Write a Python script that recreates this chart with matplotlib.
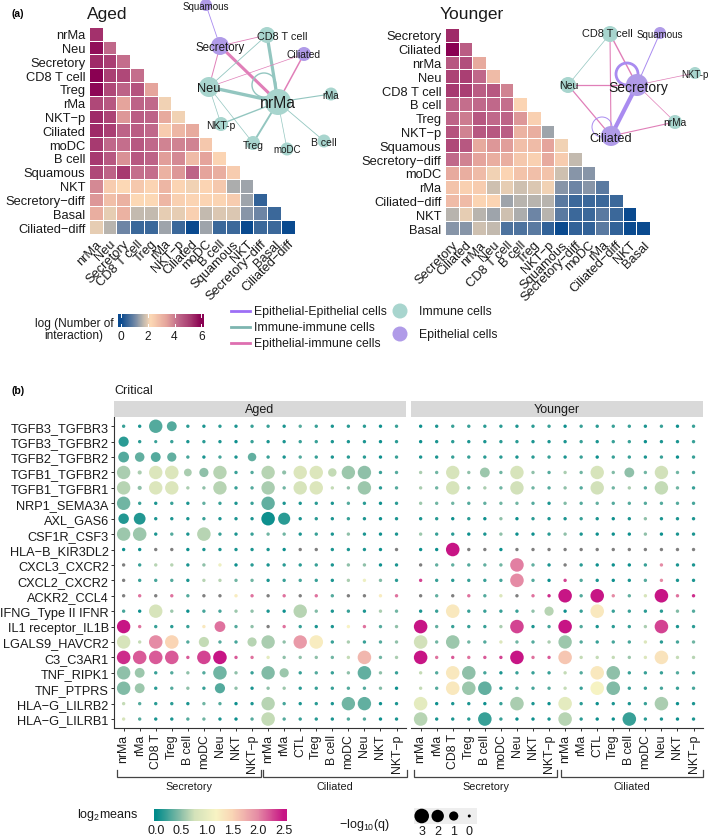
import numpy as np
import matplotlib
matplotlib.use('Agg')
from matplotlib import pyplot as plt
from matplotlib.colors import LinearSegmentedColormap
from matplotlib.patches import Circle, Rectangle

plt.rcParams['font.family'] = ['Liberation Sans', 'DejaVu Sans']
plt.rcParams['mathtext.default'] = 'regular'

G = np.nan  # grey dots, no mean

aged_cells = ['nrMa', 'Neu', 'Secretory', 'CD8 T cell', 'Treg', 'rMa', 'NKT−p', 'Ciliated', 'moDC',
              'B cell', 'Squamous', 'NKT', 'Secretory−diff', 'Basal', 'Ciliated−diff']
aged_counts = [
    [5.3],
    [5.8, 4.3],
    [5.4, 5.1, 4.2],
    [6.0, 5.1, 4.9, 4.2],
    [5.9, 4.9, 4.4, 4.7, 3.4],
    [4.9, 4.6, 3.4, 4.4, 4.3, 2.1],
    [5.4, 5.0, 3.6, 4.5, 4.4, 3.3, 2.1],
    [5.4, 5.1, 4.4, 4.5, 4.3, 2.5, 3.0, 3.3],
    [5.2, 4.3, 4.2, 4.6, 4.3, 3.9, 3.9, 3.9, 2.6],
    [5.2, 4.6, 3.7, 4.6, 4.4, 3.5, 3.8, 2.9, 3.4, 2.3],
    [4.9, 4.4, 5.2, 4.2, 4.2, 3.1, 3.6, 4.4, 3.4, 3.2, 2.5],
    [3.8, 2.5, 2.2, 2.6, 2.3, 3.0, 2.3, 2.1, 2.3, 2.6, 1.5, 1.4],
    [3.6, 2.8, 3.1, 2.2, 2.2, 3.0, 2.4, 2.3, 2.3, 2.3, 2.5, 1.4, 0.4],
    [3.2, 2.0, 3.1, 1.7, 1.7, 2.0, 2.0, 2.4, 1.7, 1.9, 1.9, 1.2, 1.0, 0.5],
    [2.0, 1.6, 1.0, 0.5, 0.5, 1.4, 0.5, 0.0, 1.4, 0.5, 0.5, 0.0, 0.5, 0.5, 0.0],
]
younger_cells = ['Secretory', 'Ciliated', 'nrMa', 'Neu', 'CD8 T cell', 'B cell', 'Treg', 'NKT−p', 'Squamous',
                 'Secretory−diff', 'moDC', 'rMa', 'Ciliated−diff', 'NKT', 'Basal']
younger_counts = [
    [5.4],
    [6.0, 4.5],
    [4.6, 4.8, 3.3],
    [5.0, 5.1, 4.3, 2.9],
    [5.2, 5.1, 4.5, 4.6, 3.9],
    [4.4, 4.2, 4.3, 4.3, 4.2, 2.3],
    [4.4, 4.0, 4.6, 4.3, 4.4, 3.6, 2.4],
    [4.7, 3.9, 4.6, 4.6, 4.5, 3.1, 3.2, 1.4],
    [4.9, 4.6, 3.3, 3.6, 3.5, 2.8, 2.9, 3.4, 2.1],
    [4.3, 3.9, 3.4, 3.2, 3.2, 2.6, 2.4, 3.3, 2.5, 1.7],
    [3.3, 3.2, 2.9, 2.1, 2.3, 2.7, 2.8, 2.7, 1.8, 1.2, 1.2],
    [2.7, 2.4, 2.5, 1.8, 2.0, 1.8, 1.9, 2.1, 1.2, 1.0, 1.2, 0.8],
    [2.9, 2.9, 2.3, 2.3, 1.4, 1.6, 1.6, 1.6, 0.8, 0.5, 0.5, 0.5, 0.5],
    [1.6, 2.0, 1.6, 1.4, 1.8, 1.5, 1.0, 1.6, 0.8, 0.5, 0.5, 0.8, 0.5, 0.0],
    [1.2, 1.2, 1.8, 1.7, 0.7, 0.7, 0.8, 0.4, 0.0, 0.4, 0.4, 0.8, 0.4, 0.0, 0.0],
]

# network: name, x, y, radius, kind, label font size
aged_nodes = [
    ('Squamous', 206, 6, 6, 'epi', 7.0), ('Secretory', 220, 47, 9, 'epi', 8.3),
    ('CD8 T cell', 267, 36, 8, 'imm', 7.8), ('Ciliated', 304, 55, 7, 'epi', 7.4),
    ('Neu', 209, 88, 10, 'imm', 9.2), ('nrMa', 278, 103, 13, 'imm', 11.3),
    ('rMa', 331, 95, 6.5, 'imm', 7.0), ('NKT-p', 221, 125, 7, 'imm', 7.5),
    ('Treg', 253, 144, 7, 'imm', 7.5), ('moDC', 287, 150, 6.5, 'imm', 7.0),
    ('B cell', 324, 142, 6.5, 'imm', 7.5),
]
aged_label_pos = {'Squamous': (206, 7), 'Secretory': (220, 48), 'CD8 T cell': (282, 37), 'Ciliated': (304, 55),
                  'Neu': (209, 89), 'nrMa': (278, 103), 'rMa': (331, 96), 'NKT-p': (221, 126), 'Treg': (253, 146),
                  'moDC': (287, 150), 'B cell': (324, 143)}
aged_edges = [
    ('Squamous', 'Secretory', 'epi', 0.6), ('Secretory', 'CD8 T cell', 'mix', 0.6),
    ('Secretory', 'Neu', 'mix', 0.7), ('Secretory', 'nrMa', 'mix', 2.2), ('CD8 T cell', 'Neu', 'imm', 0.6),
    ('CD8 T cell', 'nrMa', 'imm', 2.3), ('Ciliated', 'Neu', 'mix', 0.5), ('Ciliated', 'nrMa', 'mix', 1.1),
    ('Neu', 'nrMa', 'imm', 2.4), ('nrMa', 'rMa', 'imm', 0.8), ('nrMa', 'NKT-p', 'imm', 1.0),
    ('nrMa', 'Treg', 'imm', 1.4), ('nrMa', 'moDC', 'imm', 0.5), ('nrMa', 'B cell', 'imm', 0.6),
    ('Neu', 'NKT-p', 'imm', 0.5), ('Neu', 'Treg', 'imm', 0.5),
]
younger_nodes = [
    ('CD8 T cell', 610, 35, 8, 'imm', 7.9), ('Squamous', 660, 34, 6, 'epi', 7.0),
    ('NKT-p', 695, 74, 6, 'imm', 7.0), ('Secretory', 637, 86, 11, 'epi', 10.0),
    ('Neu', 568, 86, 8, 'imm', 7.6), ('nrMa', 675, 123, 7, 'imm', 7.3), ('Ciliated', 611, 137, 10, 'epi', 9.2),
]
younger_label_pos = {'CD8 T cell': (607, 34), 'Squamous': (660, 35), 'NKT-p': (695, 75), 'Secretory': (638, 88),
                     'Neu': (569, 86), 'nrMa': (675, 123), 'Ciliated': (611, 139)}
younger_edges = [
    ('CD8 T cell', 'Neu', 'imm', 0.5), ('CD8 T cell', 'Secretory', 'mix', 1.0), ('CD8 T cell', 'Ciliated', 'mix', 0.8),
    ('Squamous', 'Secretory', 'epi', 0.7), ('NKT-p', 'Secretory', 'mix', 0.5), ('Neu', 'Secretory', 'mix', 0.9),
    ('Neu', 'Ciliated', 'mix', 0.9), ('nrMa', 'Secretory', 'mix', 0.5), ('nrMa', 'Ciliated', 'mix', 0.8),
    ('Secretory', 'Ciliated', 'epi', 3.0),
]

pairs = ['TGFB3_TGFBR3', 'TGFB3_TGFBR2', 'TGFB2_TGFBR2', 'TGFB1_TGFBR2', 'TGFB1_TGFBR1', 'NRP1_SEMA3A',
         'AXL_GAS6', 'CSF1R_CSF3', 'HLA−B_KIR3DL2', 'CXCL3_CXCR2', 'CXCL2_CXCR2', 'ACKR2_CCL4',
         'IFNG_Type II IFNR', 'IL1 receptor_IL1B', 'LGALS9_HAVCR2', 'C3_C3AR1', 'TNF_RIPK1', 'TNF_PTPRS',
         'HLA−G_LILRB2', 'HLA−G_LILRB1']
cols_sec = ['nrMa', 'rMa', 'CD8 T', 'Treg', 'B cell', 'moDC', 'Neu', 'NKT', 'NKT−p']
cols_cil = ['nrMa', 'rMa', 'CTL', 'Treg', 'B cell', 'moDC', 'Neu', 'NKT', 'NKT−p']

mean_aged = [
    [.2, .1, .3, .3, .15, .1, .15, .1, .2, .2, .1, .3, .2, .1, .15, .15, .05, .2],
    [.15, .15, .2, .2, .1, .15, .1, .05, .2, .1, .1, .2, .2, .1, .1, .1, .05, .15],
    [.3, .35, .3, .35, .25, .1, .25, .1, .35, .2, .1, .3, .2, .1, .15, .15, .05, .2],
    [.6, .6, .85, .85, .6, .5, .65, .2, .3, .65, .5, .85, .85, .7, .55, .5, .2, .3],
    [.65, .5, .85, .85, .6, .5, .65, .2, .3, .6, .4, .8, .85, .7, .5, .55, .15, .3],
    [.4, .2, .1, .2, .1, .35, .2, .1, .2, .35, .1, .1, .15, .1, .3, .15, .05, .15],
    [.12, .12, .1, .1, .1, .2, .1, .1, .1, .05, .15, .1, .15, .1, .2, .1, .05, .1],
    [.55, .55, .1, .3, .1, .65, .2, .1, .2, .4, .4, .1, .2, .1, .5, .1, .05, .1],
    [.05, .05, G, G, .05, .1, .1, .1, .1, .1, .05, G, G, .1, .1, .1, .05, G],
    [G, .2, .65, .65, .1, .5, 1.05, .05, .15, .1, .15, .15, .2, .1, .5, .5, .05, .1],
    [G, .2, .25, .3, .1, .65, .65, .4, .4, .1, .2, .25, .2, .1, .6, 1.05, .45, .15],
    [G, 2.1, G, 2.1, .3, G, G, 1.25, 2.1, G, 2.1, G, 2.1, .3, G, G, 1.25, 2.1],
    [.25, .05, .8, .55, .05, .25, .25, .55, .5, .1, .05, .65, .45, .1, .2, .1, .6, .4],
    [2.5, 2.1, .2, .15, .2, 1.3, 2.1, .3, .5, G, 2.1, .2, .1, .1, 1.2, 2.1, .3, .5],
    [.8, .7, 2.0, 1.5, .3, .7, .3, .25, .65, .6, .5, 1.9, 1.25, .2, .6, .2, .3, .5],
    [2.4, 2.2, 2.2, 2.2, 2.2, 2.3, 2.5, 2.2, 2.1, .95, .5, .5, .5, .4, .7, 1.7, .4, .6],
    [.5, .55, .2, .3, .5, .3, .4, .5, .2, .45, .55, .2, .3, .2, .5, .35, .5, .2],
    [.45, .55, .15, .3, .5, .2, .3, .5, .1, .5, .55, .15, .2, .2, .3, .3, .45, .05],
    [.7, .3, .15, .15, .1, .4, .3, .05, .1, .65, .25, .1, .15, .1, .4, .35, .05, .1],
    [.8, .3, .1, .1, .3, .4, .1, .05, .3, .7, .3, .2, .15, .1, .3, .3, .05, .1],
]
q_aged = [
    [.2, .2, 2.2, 1.2, .2, .2, .2, .2, .2, .2, .2, .2, .2, .2, .2, .2, .2, .2],
    [1.3, .2, .1, .2, .2, .2, .2, .2, .2, .2, .2, .2, .2, .2, .2, .2, .2, .2],
    [1.5, 1.1, 1.2, 1.0, .2, .2, .2, .2, .9, .2, .2, .2, .2, .2, .2, .2, .2, .2],
    [2.2, .3, 2.2, 2.3, .8, 1.0, 2.2, .2, .2, 2.2, .3, 2.2, 2.2, .9, 2.2, 2.2, .2, .2],
    [2.2, .3, 2.2, 2.2, .2, .2, 2.2, .2, .2, 2.2, .2, 2.2, 2.2, .2, .2, 2.2, .2, .2],
    [2.2, .2, .2, .2, .2, .2, .2, .2, .2, 2.2, .2, .2, .2, .2, .2, .2, .2, .2],
    [1.4, 1.8, .2, .2, .2, .2, .2, .2, .2, 2.3, 1.9, .2, .2, .2, .2, .2, .2, .2],
    [2.2, 2.3, .2, .2, .2, 2.3, .2, .2, .2, .2, .2, .2, .2, .2, .2, .2, .2, .2],
    [.2, .2, .2, .2, .2, .2, .2, .2, .2, .2, .2, .2, .2, .2, .2, .2, .2, .2],
    [.2, .2, .2, .2, .2, .2, .2, .2, .2, .2, .2, .2, .2, .2, .2, .2, .2, .2],
    [.2, .2, .2, .2, .2, .2, .2, .2, .2, .2, .2, .2, .2, .2, .2, .2, .2, .2],
    [.2, .2, .2, .2, .2, .2, .2, .2, .2, .2, .2, .2, .2, .2, .2, .2, .2, .2],
    [.2, .2, 2.2, .2, .2, .2, .2, .2, .2, .2, .2, 2.2, .2, .2, .2, .2, .2, .2],
    [2.2, .2, .2, .2, .2, .2, 1.5, .2, .2, .2, .2, .2, .2, .2, .2, .2, .2, .2],
    [2.2, .2, 2.3, 2.3, .2, 1.3, .2, .2, 1.0, 2.2, .2, 2.2, 2.3, .2, .2, .2, .2, .2],
    [2.3, 2.3, 2.3, 2.3, .2, 2.3, 2.3, .2, .2, .2, .2, .2, .2, .2, .2, 2.3, .2, .2],
    [2.2, 1.2, .2, .2, .2, .2, 2.3, .2, .2, 2.2, 1.0, .2, .2, .2, .2, 2.3, .2, .2],
    [2.2, 1.2, .2, .2, .2, .2, 1.3, .2, .2, .2, .2, .2, .2, .2, .2, .2, .2, .2],
    [.2, .2, .2, .2, .2, .2, .2, .2, .2, 2.2, .2, .2, .2, .2, 2.2, 2.2, .2, .2],
    [.2, .2, .2, .2, .2, .2, .2, .2, .2, 2.3, .2, .2, .2, .2, .2, .2, .2, .2],
]
mean_younger = [
    [.05, .1, .2, .2, .15, .15, .1, .15, .2, .05, .2, .15, .2, .2, .1, .2, .05, .2],
    [.05, .1, .15, .1, .1, .15, .15, .1, .1, .1, .2, .1, .2, .2, .05, .1, .1, .2],
    [.1, .1, .2, .2, .15, .15, .1, .15, .2, .1, .2, .05, .2, .2, .1, .2, .05, .2],
    [.6, .4, .8, .5, .55, .4, .8, .5, .3, .6, .4, .8, .45, .5, .4, .75, .4, .25],
    [.6, .4, .8, .4, .6, .4, .75, .4, .3, .5, .3, .75, .4, .6, .3, .7, .4, .2],
    [.55, .4, .4, .3, .35, .4, .4, .3, .1, .45, .3, .35, .3, .3, .3, .3, .3, .25],
    [.1, .15, .05, .15, .05, .5, .05, .15, .1, .1, .2, .1, .05, .1, .5, .1, .1, .1],
    [.55, .2, .15, .05, .1, .5, .05, .05, .15, .5, .1, .05, .05, .05, .5, .05, .1, .1],
    [.05, .05, 2.5, G, G, .05, G, G, G, G, G, G, G, G, G, G, G, G],
    [G, .35, .35, .3, .35, .4, 2.05, .35, .1, G, .15, .05, .05, .05, .2, 2.0, .1, .1],
    [2.3, .2, .15, .2, .2, .25, 2.0, .3, .05, 2.3, .3, .1, .05, .1, .3, 2.0, .1, .1],
    [G, .35, G, 2.1, .3, .85, G, 2.1, 2.4, 2.5, .3, 2.5, 2.0, .35, .8, 2.5, 2.1, 2.4],
    [.1, .2, 1.3, .2, .2, .2, .2, .5, .65, .05, .2, 1.3, .2, .2, .15, .15, .45, .3],
    [2.5, .35, .2, .2, .2, .6, 2.3, .1, .25, 2.5, .3, .1, .15, .2, .6, 2.3, .1, .15],
    [.75, .4, .55, .4, .3, .85, .4, .3, .6, .55, .3, .2, .25, .25, .85, .15, .25, .4],
    [2.5, 2.1, 2.2, 2.1, 2.2, 2.3, 2.5, 2.1, 2.2, 1.6, .7, .7, .7, .55, .85, 1.35, .7, .65],
    [.7, .3, 1.3, .5, .25, .1, .2, .2, .2, .7, .3, 1.3, .5, .2, .2, .2, .3, .2],
    [.7, .3, 1.3, .55, .35, .15, .3, .25, .3, .7, .2, 1.15, .45, .2, .2, .25, .2, .25],
    [.95, .05, .1, .1, .05, .2, .6, .1, .05, .95, .15, .05, .1, .1, .2, .6, .05, .1],
    [.65, .1, .1, .15, .2, .2, .05, .05, .1, .65, .15, .05, .05, .2, .15, .1, .05, .1],
]
q_younger = [
    [.2, .2, .2, .2, .2, .2, .2, .2, .2, .2, .2, .2, .2, .2, .2, .2, .2, .2],
    [.2, .2, .2, .2, .2, .2, .2, .2, .2, .2, .2, .2, .2, .2, .2, .2, .2, .2],
    [.2, .2, .2, .2, .2, .2, .2, .2, .2, .2, .2, .2, .2, .2, .2, .2, .2, .2],
    [.2, .2, 2.2, .2, 1.2, .2, 2.2, .2, .2, .2, .2, 2.2, .2, 1.2, .2, 2.2, .2, .2],
    [.2, .2, 2.2, .2, .2, .2, 2.2, .2, .2, .2, .2, 2.2, .2, .2, .2, 2.2, .2, .2],
    [.2, .2, .2, .2, .2, .2, .2, .2, .2, .2, .2, .2, .2, .2, .2, .2, .2, .2],
    [.2, .2, .2, .2, .2, .2, .2, .2, .2, .2, .2, .2, .2, .2, .2, .2, .2, .2],
    [.2, .2, .2, .2, .2, .2, .2, .2, .2, .2, .2, .2, .2, .2, .2, .2, .2, .2],
    [.2, .2, 2.3, .2, .2, .2, .2, .2, .2, .2, .2, .2, .2, .2, .2, .2, .2, .2],
    [.2, .2, .2, .2, .2, .2, 2.3, .2, .2, .2, .2, .2, .2, .2, .2, .2, .2, .2],
    [.2, .2, .2, .2, .2, .2, 2.3, .2, .2, .2, .2, .2, .2, .2, .2, .2, .2, .2],
    [.2, .2, .2, .2, .2, .2, .2, .2, .2, 2.3, .2, 2.3, .2, .2, .2, 2.3, .2, .2],
    [.2, .2, 2.3, .2, .2, .2, .2, .2, 1.0, .2, .2, 2.3, .2, .2, .2, .2, .2, .2],
    [2.3, .2, .2, .2, .2, .2, 2.3, .2, .2, 2.3, .2, .2, .2, .2, .2, 2.3, .2, .2],
    [2.3, .2, 2.3, .2, .2, .2, .2, .2, .2, 2.2, .2, .2, .2, .2, .2, .2, .2, .2],
    [2.3, .2, .2, .2, .2, .2, 2.3, .2, .2, 2.3, .2, .2, .2, .2, .2, 2.3, .2, .2],
    [.2, .2, 2.3, 2.3, .2, .2, .2, .2, .2, .2, .2, 2.3, 2.3, .2, .2, .2, .2, .2],
    [.2, .2, 2.3, 2.3, 2.3, .2, .2, .2, .2, .2, .2, 2.3, 2.3, .2, .2, .2, .2, .2],
    [2.3, .2, .2, .2, .2, .2, 2.3, .2, .2, 2.3, .2, .2, .2, .2, .2, 2.3, .2, .2],
    [2.3, .2, .2, .2, 2.3, .2, .2, .2, .2, 2.3, .2, .2, .2, 2.3, .2, .2, .2, .2],
]

W, H = 709, 837
fig = plt.figure(figsize=(W / 100, H / 100), dpi=100)

heat_cmap = LinearSegmentedColormap.from_list('heat', [
    (0, '#0A4A8F'), (1.0 / 6, '#6E86A5'), (1.6 / 6, '#B8B4AE'), (2.2 / 6, '#FDD9B5'),
    (3.4 / 6, '#E5A59C'), (4.3 / 6, '#C0688A'), (5.2 / 6, '#A73A70'), (1, '#8A0052')])
dot_cmap = LinearSegmentedColormap.from_list('dots', [
    (0, '#008B8B'), (0.2, '#8FC0A9'), (0.3, '#D3E2BA'), (0.47, '#F8F4C4'), (0.6, '#FAD5B5'),
    (0.8, '#E58BA5'), (1, '#C71585')])

EPI, IMM, MIX = '#B09BE8', '#A8D5CE', '#DE6FB0'
edge_colors = {'epi': '#A98BF0', 'imm': '#93C6C0', 'mix': '#E07FB8'}
node_colors = {'epi': EPI, 'imm': IMM}


def px_axes(left, top, right, bottom, **kw):
    return fig.add_axes([left / W, 1 - bottom / H, (right - left) / W, (bottom - top) / H], **kw)


def draw_heat(box, cells, counts):
    n = len(cells)
    z = np.full((n, n), np.nan)
    for i, row in enumerate(counts):
        z[i, :len(row)] = row
    ax = px_axes(*box)
    ax.pcolormesh(np.arange(n + 1), np.arange(n + 1), np.ma.masked_invalid(z), cmap=heat_cmap,
                  vmin=0, vmax=6, edgecolors='white', linewidth=0.55)
    ax.set_xlim(0, n)
    ax.set_ylim(n, 0)
    ax.set_xticks(np.arange(n) + 0.5)
    ax.set_yticks(np.arange(n) + 0.5)
    ax.set_xticklabels(cells, rotation=45, ha='right', va='top', rotation_mode='anchor', fontsize=9.3, color='#1a1a1a')
    ax.set_yticklabels(cells, fontsize=9.3, color='#1a1a1a')
    ax.tick_params(length=0, pad=2.5)
    for s in ax.spines.values():
        s.set_visible(False)


draw_heat((89, 27.7, 294.5, 235), aged_cells, aged_counts)
draw_heat((445, 29, 650, 236), younger_cells, younger_counts)

ov = fig.add_axes([0, 0, 1, 1], zorder=5)
ov.set_xlim(0, W)
ov.set_ylim(H, 0)
ov.axis('off')


def draw_net(nodes, edges, label_pos):
    pos = {n[0]: (n[1], n[2]) for n in nodes}
    for a, b, kind, lw in edges:
        ov.plot([pos[a][0], pos[b][0]], [pos[a][1], pos[b][1]], color=edge_colors[kind], lw=lw,
                solid_capstyle='butt', zorder=1)
    for name, x, y, r, kind, fs in nodes:
        ov.add_patch(Circle((x, y), r, fc=node_colors[kind], ec='none', zorder=2))
        lx, ly = label_pos[name]
        ov.text(lx, ly, name, ha='center', va='center', fontsize=fs, color='#1a1a1a', zorder=3)


draw_net(aged_nodes, aged_edges, aged_label_pos)
draw_net(younger_nodes, younger_edges, younger_label_pos)
ov.add_patch(Circle((264, 86), 12, fc='none', ec=edge_colors['imm'], lw=1.0, zorder=1))
ov.add_patch(Circle((627, 75), 11, fc='none', ec=edge_colors['epi'], lw=2.0, zorder=1))
ov.add_patch(Circle((602, 128), 10, fc='none', ec=edge_colors['epi'], lw=0.7, zorder=1))

ov.text(11, 14, '(a)', fontsize=7.5, fontweight='bold', va='center')
ov.text(107, 14, 'Aged', fontsize=12.5, ha='center', va='center', color='#1a1a1a')
ov.text(472, 14, 'Younger', fontsize=12.5, ha='center', va='center', color='#1a1a1a')
ov.text(11, 391, '(b)', fontsize=7.5, fontweight='bold', va='center')
ov.text(114, 391, 'Critical', fontsize=9, va='center', color='#1a1a1a')

# heat colour bar
cb = px_axes(118, 315, 204, 328)
cb.imshow(np.linspace(-0.22, 6.2, 256)[None, :], aspect='auto', cmap=heat_cmap, vmin=0, vmax=6,
          extent=(-0.22, 6.2, 0, 1))
cb.set_xticks([0, 2, 4, 6])
cb.set_yticks([])
cb.tick_params(axis='x', length=0, labelsize=8.6, pad=2.5, labelcolor='#1a1a1a')
for v in [0, 2, 4, 6]:
    cb.plot([v, v], [0, 0.2], color='white', lw=0.7)
    cb.plot([v, v], [0.8, 1], color='white', lw=0.7)
cb.set_ylim(0, 1)
cb.set_xlim(-0.22, 6.2)
for s in cb.spines.values():
    s.set_visible(False)
ov.text(74, 330, 'log (Number of\ninteraction)', ha='center', va='center', fontsize=8.6, linespacing=0.95,
        color='#1a1a1a')

# legend of panel a
for y, c, label in [(312, '#9D6FF5', 'Epithelial-Epithelial cells'), (328, '#7DB5B0', 'Immune-immune cells'),
                    (344, '#DE6FB0', 'Epithelial-immune cells')]:
    ov.plot([231, 250], [y, y], color=c, lw=2)
    ov.text(254, y, label, fontsize=8.8, va='center', color='#1a1a1a')
for y, c, label in [(312, IMM, 'Immune cells'), (335, EPI, 'Epithelial cells')]:
    ov.add_patch(Circle((400, y), 7.5, fc=c, ec='none'))
    ov.text(419, y, label, fontsize=8.8, va='center', color='#1a1a1a')


def q_radius(q):
    return np.interp(q, [0, 0.2, 1, 2, 2.2, 3], [1.5, 1.7, 4.6, 6.2, 6.7, 7.3])


def q_area(q):
    # radius in px -> scatter area in pt^2
    return (2 * q_radius(np.asarray(q, dtype=float)) * 0.72) ** 2


def draw_dots(box, means, qs, show_y, strip):
    means = np.array(means)
    qs = np.array(qs)
    left = box[0]
    ax = px_axes(*box)
    yy, xx = np.mgrid[0:means.shape[0], 0:means.shape[1]]
    nan = np.isnan(means)
    ax.scatter(xx[nan], yy[nan], s=q_area(qs[nan]), c='#7F7F7F', linewidths=0)
    ax.scatter(xx[~nan], yy[~nan], s=q_area(qs[~nan]), c=means[~nan], cmap=dot_cmap, vmin=0, vmax=2.5, linewidths=0)
    ax.set_xlim(-0.6, 17.59)
    ax.set_ylim(19.6, -0.58)
    ax.set_xticks(range(18))
    ax.set_xticklabels(cols_sec + cols_cil, rotation=90, fontsize=8.8, color='#1a1a1a')
    ax.tick_params(axis='x', length=2.2, width=0.7, pad=1.5, color='#333333')
    ax.spines['top'].set_visible(False)
    ax.spines['right'].set_visible(False)
    ax.spines['bottom'].set_color('#333333')
    if show_y:
        ax.set_yticks(range(len(pairs)))
        ax.set_yticklabels(pairs, fontsize=9.2, color='#1a1a1a')
        ax.tick_params(axis='y', length=2.2, width=0.7, pad=1.5, color='#333333')
        ax.spines['left'].set_color('#333333')
    else:
        ax.set_yticks([])
        ax.spines['left'].set_visible(False)
    ov.add_patch(Rectangle((left, 402), box[2] - left, 16.3, fc='#D9D9D9', ec='none'))
    ov.text((left + box[2]) / 2, 410.3, strip, ha='center', va='center', fontsize=9, color='#1a1a1a')


draw_dots((114, 418.3, 406, 729.3), mean_aged, q_aged, True, 'Aged')
draw_dots((411, 418.3, 703, 729.3), mean_younger, q_younger, False, 'Younger')

# brackets under the x labels
for x0, x1, label in [(117.3, 260.7, 'Secretory'), (263.3, 407, 'Ciliated'),
                      (414, 557.3, 'Secretory'), (560.7, 703.3, 'Ciliated')]:
    ov.plot([x0, x0, x1, x1], [771, 777.5, 777.5, 771], color='#444444', lw=0.9, solid_joinstyle='miter')
    ov.text((x0 + x1) / 2, 787.5, label, ha='center', va='center', fontsize=7.8, color='#1a1a1a')

# colour bar of panel b
cb2 = px_axes(154.3, 810, 286.7, 822)
cb2.imshow(np.linspace(-0.03, 2.56, 256)[None, :], aspect='auto', cmap=dot_cmap, vmin=0, vmax=2.5,
           extent=(-0.03, 2.56, 0, 1))
cb2.set_xticks([0, 0.5, 1, 1.5, 2, 2.5])
cb2.set_xticklabels(['0.0', '0.5', '1.0', '1.5', '2.0', '2.5'])
cb2.set_yticks([])
cb2.tick_params(axis='x', length=0, labelsize=9, pad=2.5, labelcolor='#1a1a1a')
for s in cb2.spines.values():
    s.set_visible(False)
ov.text(137.7, 815, 'log$_2$means', ha='right', va='center', fontsize=9, color='#1a1a1a')

# size legend
ov.add_patch(Rectangle((414, 809), 62.7, 16, fc='#EEEEEE', ec='none'))
size_levels = [3, 2, 1, 0]
size_x = [421.7, 437.7, 453.7, 469.3]
ov.scatter(size_x, [817] * 4, s=q_area(size_levels), c='black', linewidths=0, zorder=3)
for x, lv in zip(size_x, size_levels):
    ov.text(x, 832, str(lv), ha='center', va='center', fontsize=9, color='#1a1a1a')
ov.text(390, 825, r'$-$log$_{10}$(q)', ha='right', va='center', fontsize=9, color='#1a1a1a')

fig.savefig('out.png', dpi=100)
